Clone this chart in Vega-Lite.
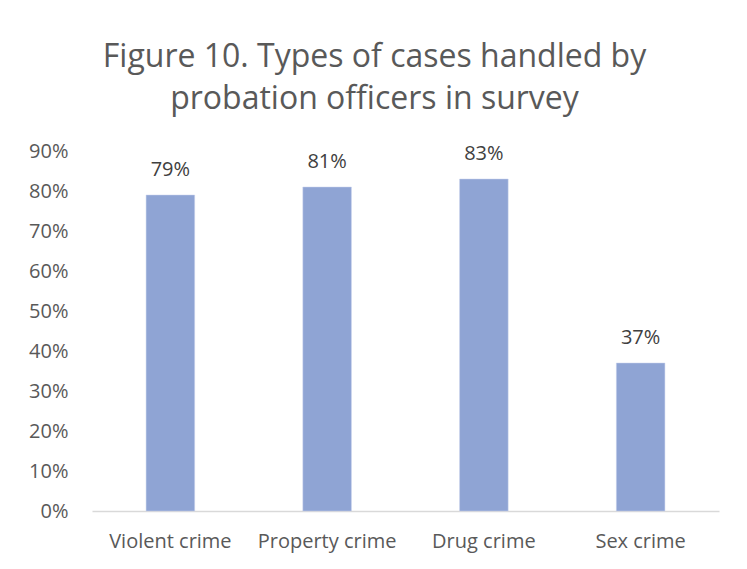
{
  "$schema": "https://vega.github.io/schema/vega-lite/v6.json",
  "width": 627,
  "height": 360,
  "autosize": "none",
  "padding": {"left": 92, "top": 151, "right": 28, "bottom": 58},
  "background": "white",
  "title": {
    "text": ["Figure 10. Types of cases handled by", "probation officers in survey"],
    "fontSize": 32,
    "font": "Open Sans",
    "fontWeight": "normal",
    "color": "#595959",
    "lineHeight": 42,
    "anchor": "middle",
    "dx": -31,
    "offset": 25
  },
  "data": {
    "values": [
      {"type": "Violent crime", "pct": 0.79},
      {"type": "Property crime", "pct": 0.81},
      {"type": "Drug crime", "pct": 0.83},
      {"type": "Sex crime", "pct": 0.37}
    ]
  },
  "encoding": {
    "x": {
      "field": "type",
      "type": "nominal",
      "sort": null,
      "scale": {"paddingInner": 0.69, "paddingOuter": 0.345},
      "axis": {
        "title": null,
        "labelAngle": 0,
        "labelFont": "Open Sans",
        "labelFontSize": 20,
        "labelColor": "#595959",
        "labelPadding": 20,
        "ticks": false,
        "domainColor": "#D9D9D9",
        "domainWidth": 1.5
      }
    },
    "y": {
      "field": "pct",
      "type": "quantitative",
      "scale": {"domain": [0, 0.9], "nice": false},
      "axis": {
        "title": null,
        "format": ".0%",
        "values": [0, 0.1, 0.2, 0.3, 0.4, 0.5, 0.6, 0.7, 0.8, 0.9],
        "labelFont": "Open Sans",
        "labelFontSize": 20,
        "labelColor": "#595959",
        "labelPadding": 24,
        "ticks": false,
        "domain": false,
        "grid": false
      }
    }
  },
  "layer": [
    {"mark": {"type": "bar", "color": "#8FA4D4", "stroke": "#C9D3EC", "strokeWidth": 0.5}},
    {
      "mark": {"type": "text", "dy": -25, "font": "Open Sans", "fontSize": 20, "color": "#404040"},
      "encoding": {"text": {"field": "pct", "type": "quantitative", "format": ".0%"}}
    }
  ],
  "config": {"view": {"stroke": null}}
}
